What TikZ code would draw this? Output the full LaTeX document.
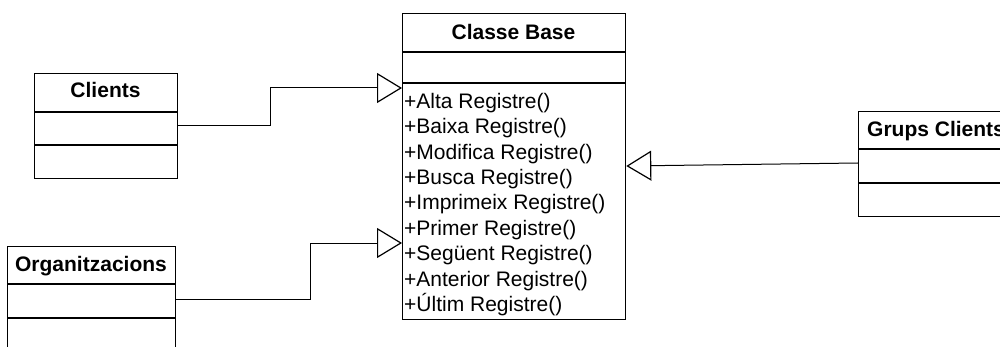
\documentclass[tikz,border=0pt]{standalone}
\usepackage{fontspec}
\setmainfont{Liberation Sans}
\usetikzlibrary{arrows.meta}
\begin{document}
\begin{tikzpicture}[x=1pt,y=-1pt,
  classbox/.style={draw, line width=1.3pt, rectangle, inner sep=0pt, anchor=north west},
  sep/.style={line width=1.3pt},
  title/.style={font=\fontsize{21}{25}\selectfont\bfseries, anchor=base, inner sep=0pt},
  method/.style={font=\fontsize{21}{25}\selectfont, anchor=base west, inner sep=0pt},
  inherit/.style={draw, line width=1pt, -{Triangle[open, length=25pt, width=30pt, line width=1.2pt]}}]
\useasboundingbox (0,0) rectangle (1000,347);

% Classe Base
\node[classbox, minimum width=223pt, minimum height=306pt] (cb) at (402,13) {};
\draw[sep] (cb.west |- 0,52) -- (cb.east |- 0,52);
\draw[sep] (cb.west |- 0,83) -- (cb.east |- 0,83);
\node[title] (cbT) at (513.5,39.5) {Classe Base};
\foreach \t [count=\i from 0] in {+Alta Registre(),+Baixa Registre(),+Modifica Registre(),+Busca Registre(),+Imprimeix Registre(),+Primer Registre(),+Següent Registre(),+Anterior Registre(),+Últim Registre()}
  \node[method] (m\i) at (404,108.3+25.4*\i) {\t};

% Clients
\node[classbox, minimum width=143pt, minimum height=105pt] (clients) at (34,73) {};
\draw[sep] (clients.west |- 0,112) -- (clients.east |- 0,112);
\draw[sep] (clients.west |- 0,145) -- (clients.east |- 0,145);
\node[title] (clientsT) at (105.5,98) {Clients};

% Organitzacions
\node[classbox, minimum width=168pt, minimum height=150pt] (org) at (7,246) {};
\draw[sep] (org.west |- 0,284) -- (org.east |- 0,284);
\draw[sep] (org.west |- 0,318) -- (org.east |- 0,318);
\node[title] (orgT) at (91,271.5) {Organitzacions};

% Grups Clients
\node[classbox, minimum width=156pt, minimum height=105pt] (grups) at (858,111) {};
\draw[sep] (grups.west |- 0,149) -- (grups.east |- 0,149);
\draw[sep] (grups.west |- 0,183) -- (grups.east |- 0,183);
\node[title, anchor=base west] (grupsT) at (867,137) {Grups Clients};

% Inheritance connectors
\draw[inherit] (clients.east |- 0,126) -- (270,126) -- (270,88) -- (cb.west |- 0,88);
\draw[inherit] (org.east |- 0,299) -- (310,299) -- (310,243) -- (cb.west |- 0,243);
\draw[inherit] (grups.west |- 0,163) -- (cb.east |- 0,166);
\end{tikzpicture}
\end{document}
